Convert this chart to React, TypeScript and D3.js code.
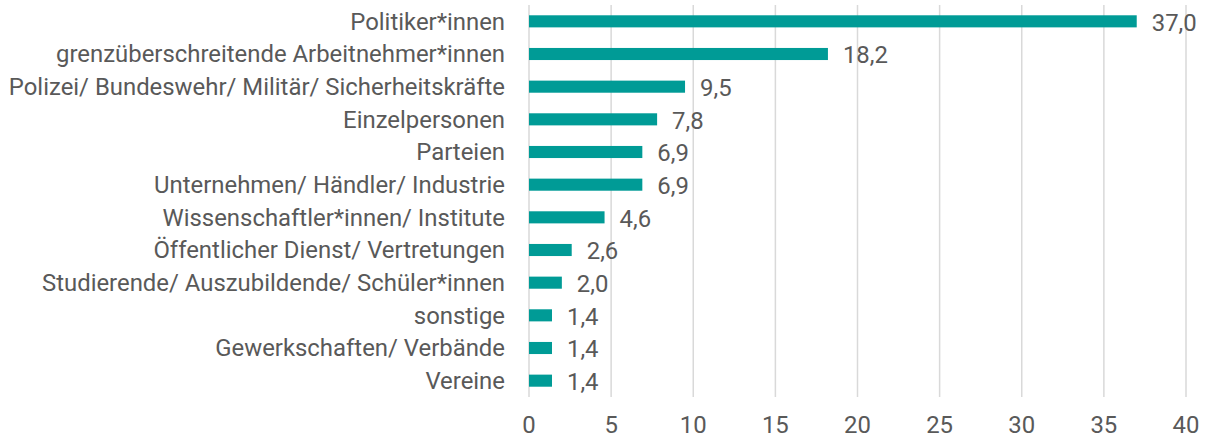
import React from "react";
import * as d3 from "d3";

const categories = [
  "Politiker*innen",
  "grenzüberschreitende Arbeitnehmer*innen",
  "Polizei/ Bundeswehr/ Militär/ Sicherheitskräfte",
  "Einzelpersonen",
  "Parteien",
  "Unternehmen/ Händler/ Industrie",
  "Wissenschaftler*innen/ Institute",
  "Öffentlicher Dienst/ Vertretungen",
  "Studierende/ Auszubildende/ Schüler*innen",
  "sonstige",
  "Gewerkschaften/ Verbände",
  "Vereine",
];
const values = [37.0, 18.2, 9.5, 7.8, 6.9, 6.9, 4.6, 2.6, 2.0, 1.4, 1.4, 1.4];
const ticks = [0, 5, 10, 15, 20, 25, 30, 35, 40];

const W = 1205;
const H = 438;
const left = 529;
const right = 1186;
const top = 5;
const bottom = 397;
const color = "#009B96";
const textColor = "#595959";
const font = "Roboto, sans-serif";
const fs = 23.9;

export default function App() {
  const x = d3.scaleLinear().domain([0, 40]).range([left, right]);
  const y = d3.scaleBand<string>().domain(categories).range([top, bottom]).paddingInner(0.63).paddingOuter(0.315);
  const fmt = (v: number) => v.toFixed(1).replace(".", ",");
  return (
    <svg width={W} height={H} style={{ position: "absolute", left: 0, top: 0, background: "#fff" }} fontFamily={font}>
      {ticks.map((t) => (
        <line key={t} x1={x(t)} x2={x(t)} y1={top} y2={bottom} stroke="#D9D9D9" strokeWidth={1.5} />
      ))}
      {categories.map((c, i) => {
        const yc = (y(c) as number) + y.bandwidth() / 2;
        return (
          <g key={c}>
            <rect x={x(0)} y={y(c)} width={x(values[i]) - x(0)} height={y.bandwidth()} fill={color} />
            <text x={505} y={yc} dy="0.35em" textAnchor="end" fontSize={fs} fill={textColor}>
              {c}
            </text>
            <text x={x(values[i]) + 15} y={yc + 1} dy="0.35em" fontSize={fs} fill={textColor}>
              {fmt(values[i])}
            </text>
          </g>
        );
      })}
      {ticks.map((t) => (
        <text key={t} x={x(t)} y={425} dy="0.35em" textAnchor="middle" fontSize={fs} fill={textColor}>
          {t}
        </text>
      ))}
    </svg>
  );
}
